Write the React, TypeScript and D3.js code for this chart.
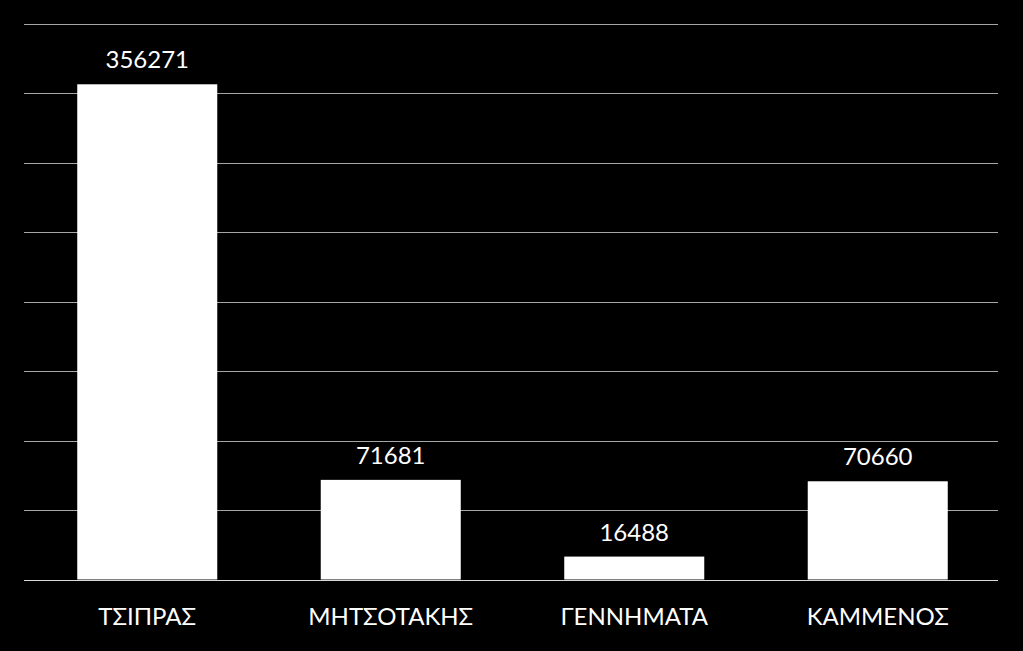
import React from "react";
import * as d3 from "d3";

const categories = ["ΤΣΙΠΡΑΣ", "ΜΗΤΣΟΤΑΚΗΣ", "ΓΕΝΝΗΜΑΤΑ", "ΚΑΜΜΕΝΟΣ"];
const values = [356271, 71681, 16488, 70660];
const yTicks = [0, 50000, 100000, 150000, 200000, 250000, 300000, 350000, 400000];

const W = 1023;
const H = 651;
const left = 24;
const right = 998;
const top = 23.5;
const bottom = 579.5;

export default function App() {
  React.useEffect(() => {
    document.body.style.margin = "0";
    document.body.style.background = "#000";
  }, []);
  const x = d3.scaleBand<string>().domain(categories).range([left + 1.5, right + 1.5]).paddingInner(0.425).paddingOuter(0.2125);
  const y = d3.scaleLinear().domain([0, 400000]).range([bottom, top]);
  const font = "Lato, 'Open Sans', sans-serif";
  return (
    <svg width={W} height={H} style={{ display: "block", background: "#000" }}>
      <rect x={0} y={0} width={W} height={H} fill="#000" />
      {yTicks.map((t) => (
        <line key={t} x1={left} x2={right} y1={Math.round(y(t)) + 0.5} y2={Math.round(y(t)) + 0.5}
          stroke={t === 0 ? "#d9d9d9" : "#a6a6a6"} strokeWidth={1} />
      ))}
      {categories.map((c, i) => (
        <g key={c}>
          <rect x={x(c)!} y={y(values[i])} width={x.bandwidth()} height={bottom - y(values[i])} fill="#fff" />
          <text x={x(c)! + x.bandwidth() / 2} y={y(values[i]) - 16} textAnchor="middle" fill="#fff"
            fontFamily={font} fontSize={24}>{values[i]}</text>
          <text x={x(c)! + x.bandwidth() / 2} y={625} textAnchor="middle" fill="#fff"
            fontFamily={font} fontSize={24}>{c}</text>
        </g>
      ))}
    </svg>
  );
}
